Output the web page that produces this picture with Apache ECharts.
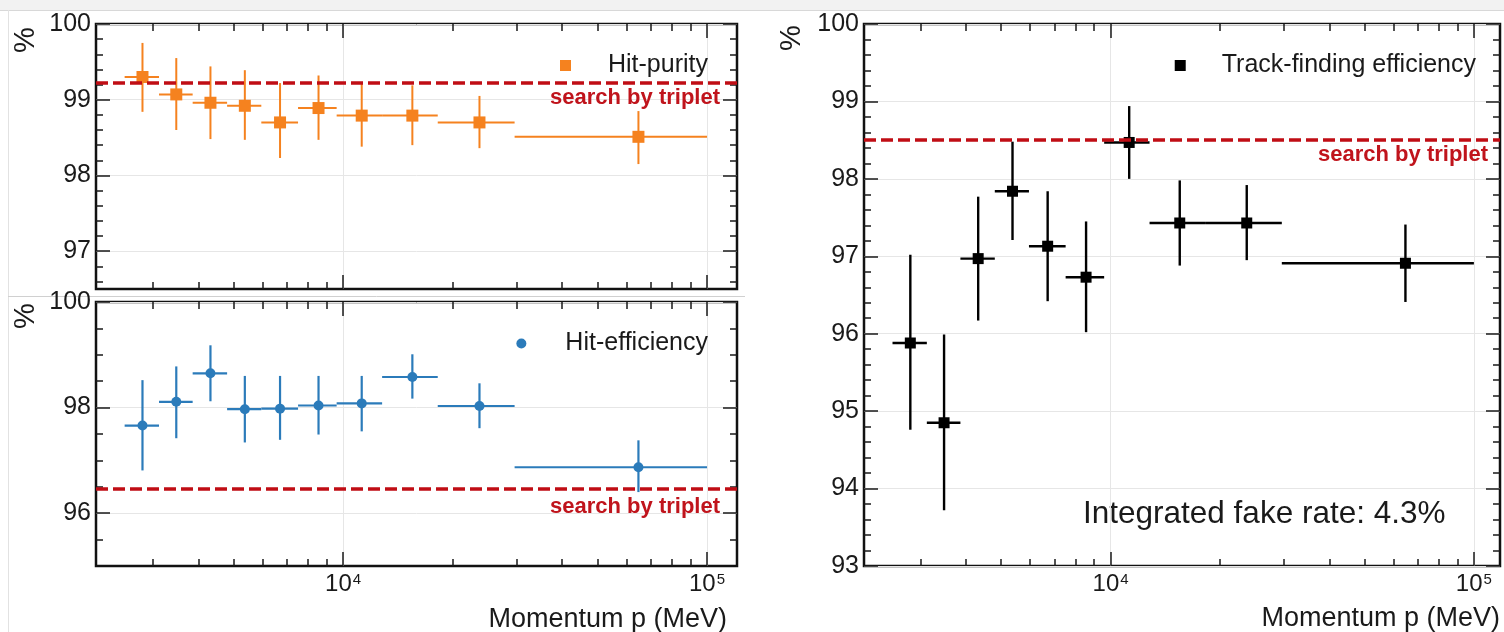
<!DOCTYPE html>
<html>
<head>
<meta charset="utf-8">
<script src="https://cdn.jsdelivr.net/npm/echarts@6/dist/echarts.min.js"></script>
<style>
  html, body { margin: 0; padding: 0; background: #ffffff; }
  #chart { width: 1504px; height: 632px; }
</style>
</head>
<body>
<div id="chart"></div>
<script>
// ---------------- data ----------------
const binEdges   = [2510, 3120, 3860, 4800, 5960, 7520, 9600, 12800, 18200, 29600, 100000];
const momentum   = [2810, 3480, 4320, 5370, 6710, 8560, 11250, 15500, 23700, 64800];

const purity     = [99.30, 99.07, 98.96, 98.92, 98.70, 98.89, 98.79, 98.79, 98.70, 98.51];
const purityHi   = [99.75, 99.55, 99.44, 99.39, 99.22, 99.32, 99.21, 99.19, 99.05, 98.85];
const purityLo   = [98.84, 98.60, 98.48, 98.47, 98.23, 98.47, 98.38, 98.40, 98.36, 98.15];

const hitEff     = [97.66, 98.11, 98.65, 97.97, 97.98, 98.04, 98.08, 98.58, 98.03, 96.87];
const hitEffHi   = [98.52, 98.78, 99.18, 98.60, 98.60, 98.60, 98.60, 99.01, 98.46, 97.38];
const hitEffLo   = [96.81, 97.42, 98.12, 97.34, 97.39, 97.49, 97.55, 98.17, 97.61, 96.40];

const trackEff   = [95.88, 94.85, 96.97, 97.84, 97.13, 96.73, 98.47, 97.43, 97.43, 96.91];
const trackEffHi = [97.02, 95.99, 97.77, 98.48, 97.84, 97.45, 98.94, 97.98, 97.92, 97.41];
const trackEffLo = [94.76, 93.72, 96.17, 97.21, 96.42, 96.02, 98.00, 96.88, 96.95, 96.41];

const tripletPurity   = 99.22;
const tripletHitEff   = 96.47;
const tripletTrackEff = 98.50;
const fakeRate = 4.3;

// ---------------- tick values ----------------
const xMajorTicks = [10000, 100000];
const xMinorTicks = [3000, 4000, 5000, 6000, 7000, 8000, 9000,
                     20000, 30000, 40000, 50000, 60000, 70000, 80000, 90000];

const purityMajor = [97, 98, 99, 100];
const purityMinor = [96.6, 96.8, 97.2, 97.4, 97.6, 97.8, 98.2, 98.4, 98.6, 98.8,
                     99.2, 99.4, 99.6, 99.8];
const hitEffMajor = [96, 98, 100];
const hitEffMinor = [95.5, 96.5, 97, 97.5, 98.5, 99, 99.5];
const trackMajor  = [93, 94, 95, 96, 97, 98, 99, 100];
const trackMinor  = [93.2, 93.4, 93.6, 93.8, 94.2, 94.4, 94.6, 94.8, 95.2, 95.4, 95.6, 95.8,
                     96.2, 96.4, 96.6, 96.8, 97.2, 97.4, 97.6, 97.8, 98.2, 98.4, 98.6, 98.8,
                     99.2, 99.4, 99.6, 99.8];

// ---------------- style ----------------
const FONT = '"Liberation Sans", Arial, Helvetica, sans-serif';
const INK = '#1a1a1a';
const TRIPLET_LINE = '#c00d14';
const TRIPLET_TEXT = '#c0141c';
const ORANGE = '#f5821f';
const BLUE = '#2b7bba';
const BLACK = '#000000';

const grids = [
  { left: 96,  top: 24,  width: 641, height: 265 },
  { left: 96,  top: 302, width: 641, height: 264 },
  { left: 864, top: 24,  width: 636, height: 542 }
];
const xRanges = [[2094, 120900], [2094, 120900], [2095, 118000]];
const yRanges = [[96.5, 100], [95, 100], [93, 100]];
const yTicks  = [[purityMajor, purityMinor], [hitEffMajor, hitEffMinor], [trackMajor, trackMinor]];

function xAxesFor(g, showLabels) {
  const r = xRanges[g];
  const base = {
    type: 'log', gridIndex: g, min: r[0], max: r[1],
    axisLine: { show: false }, axisLabel: { show: false }, splitLine: { show: false }
  };
  const tickStyle = { color: INK, width: 1.5 };
  const labels = showLabels ? {
    show: true, customValues: xMajorTicks, margin: 6,
    formatter: function (v) { return '{b|10}{s|' + Math.round(Math.log10(v)) + '}'; },
    rich: {
      b: { fontSize: 24, fontFamily: FONT, color: INK },
      s: { fontSize: 15, fontFamily: FONT, color: INK, verticalAlign: 'top', padding: [0, 0, 10, 1] }
    }
  } : { show: false };
  return [
    Object.assign({}, base, { position: 'bottom',
      axisTick: { show: true, inside: true, length: 14, customValues: xMajorTicks, lineStyle: tickStyle },
      axisLabel: labels,
      splitLine: { show: true, lineStyle: { color: '#e6e6e6', width: 1 } } }),
    Object.assign({}, base, { position: 'bottom',
      axisTick: { show: true, inside: true, length: 7, customValues: xMinorTicks, lineStyle: tickStyle } }),
    Object.assign({}, base, { position: 'top',
      axisTick: { show: true, inside: true, length: 14, customValues: xMajorTicks, lineStyle: tickStyle } }),
    Object.assign({}, base, { position: 'top',
      axisTick: { show: true, inside: true, length: 7, customValues: xMinorTicks, lineStyle: tickStyle } })
  ];
}

function yAxesFor(g) {
  const r = yRanges[g];
  const major = yTicks[g][0], minor = yTicks[g][1];
  const base = {
    type: 'value', gridIndex: g, min: r[0], max: r[1],
    axisLine: { show: false }, axisLabel: { show: false }, splitLine: { show: false }
  };
  const tickStyle = { color: INK, width: 1.5 };
  return [
    Object.assign({}, base, { position: 'left',
      axisTick: { show: true, inside: true, length: 14, customValues: major, lineStyle: tickStyle },
      axisLabel: { show: true, customValues: major, margin: 5, fontSize: 25, fontFamily: FONT, color: INK,
                   formatter: function (v) { return String(v); } },
      splitLine: { show: true, lineStyle: { color: '#e6e6e6', width: 1 } } }),
    Object.assign({}, base, { position: 'left',
      axisTick: { show: true, inside: true, length: 7, customValues: minor, lineStyle: tickStyle } }),
    Object.assign({}, base, { position: 'right',
      axisTick: { show: true, inside: true, length: 14, customValues: major, lineStyle: tickStyle } }),
    Object.assign({}, base, { position: 'right',
      axisTick: { show: true, inside: true, length: 7, customValues: minor, lineStyle: tickStyle } })
  ];
}

function errorBarSeries(g, vals, hi, lo, color, width) {
  return {
    type: 'custom', xAxisIndex: 4 * g, yAxisIndex: 4 * g, silent: true, z: 3,
    encode: { x: [0, 2, 3], y: [1, 4, 5] },
    data: momentum.map(function (m, i) { return [m, vals[i], binEdges[i], binEdges[i + 1], hi[i], lo[i]]; }),
    renderItem: function (params, api) {
      const c = api.coord([api.value(0), api.value(1)]);
      const l = api.coord([api.value(2), api.value(1)]);
      const r = api.coord([api.value(3), api.value(1)]);
      const t = api.coord([api.value(0), api.value(4)]);
      const b = api.coord([api.value(0), api.value(5)]);
      const st = { stroke: color, lineWidth: width };
      return { type: 'group', children: [
        { type: 'line', shape: { x1: l[0], y1: c[1], x2: r[0], y2: c[1] }, style: st },
        { type: 'line', shape: { x1: c[0], y1: t[1], x2: c[0], y2: b[1] }, style: st }
      ] };
    }
  };
}

function pointSeries(g, name, vals, color, symbol, size, triplet, labelDist) {
  return {
    type: 'scatter', name: name, xAxisIndex: 4 * g, yAxisIndex: 4 * g, z: 4,
    symbol: symbol, symbolSize: size, itemStyle: { color: color, opacity: 1 },
    data: momentum.map(function (m, i) { return [m, vals[i]]; }),
    markLine: {
      silent: true, symbol: ['none', 'none'], animation: false,
      lineStyle: { color: TRIPLET_LINE, type: [12, 5], width: 3.5 },
      label: { show: true, position: 'insideEndBottom', formatter: 'search by triplet',
               distance: labelDist, color: TRIPLET_TEXT, fontWeight: 'bold', fontSize: 22, fontFamily: FONT },
      emphasis: { disabled: true },
      data: [{ yAxis: triplet }]
    }
  };
}

function legendFor(name, icon, right, top, pad) {
  return {
    data: [{ name: name, icon: icon }], right: right, top: top,
    itemWidth: icon === 'circle' ? 10 : 11, itemHeight: icon === 'circle' ? 10 : 11,
    selectedMode: false,
    textStyle: { fontSize: 25, fontFamily: FONT, color: INK, padding: [0, 0, 0, pad] }
  };
}

const option = {
  animation: false,
  backgroundColor: '#ffffff',
  grid: grids.map(function (g) {
    return Object.assign({ show: true, borderColor: '#111111', borderWidth: 2.5, backgroundColor: 'transparent' }, g);
  }),
  xAxis: [].concat(xAxesFor(0, false), xAxesFor(1, true), xAxesFor(2, true)),
  yAxis: [].concat(yAxesFor(0), yAxesFor(1), yAxesFor(2)),
  legend: [
    legendFor('Hit-purity', 'rect', 791, 48, 32),
    legendFor('Hit-efficiency', 'circle', 791, 326, 34),
    legendFor('Track-finding efficiency', 'rect', 23, 48, 31)
  ],
  graphic: [
    { type: 'rect', shape: { x: 0, y: 0, width: 1504, height: 10 }, style: { fill: '#f2f2f2' }, silent: true },
    { type: 'line', shape: { x1: 0, y1: 10.5, x2: 1504, y2: 10.5 }, style: { stroke: '#d8d8d8', lineWidth: 1 }, silent: true },
    { type: 'line', shape: { x1: 8.5, y1: 10, x2: 8.5, y2: 632 }, style: { stroke: '#e2e2e2', lineWidth: 1 }, silent: true },
    { type: 'line', shape: { x1: 8, y1: 296.5, x2: 745, y2: 296.5 }, style: { stroke: '#d0d0d0', lineWidth: 1 }, silent: true },
    { type: 'text', x: 26, y: 40, rotation: Math.PI / 2,
      style: { text: '%', font: '29px ' + FONT, fill: INK, align: 'center', verticalAlign: 'middle' } },
    { type: 'text', x: 26, y: 316, rotation: Math.PI / 2,
      style: { text: '%', font: '29px ' + FONT, fill: INK, align: 'center', verticalAlign: 'middle' } },
    { type: 'text', x: 792, y: 38, rotation: Math.PI / 2,
      style: { text: '%', font: '29px ' + FONT, fill: INK, align: 'center', verticalAlign: 'middle' } },
    { type: 'text', x: 727, y: 620,
      style: { text: 'Momentum p (MeV)', font: '27px ' + FONT, fill: INK, align: 'right', verticalAlign: 'middle' } },
    { type: 'text', x: 1500, y: 619,
      style: { text: 'Momentum p (MeV)', font: '27px ' + FONT, fill: INK, align: 'right', verticalAlign: 'middle' } },
    { type: 'text', x: 1083, y: 514,
      style: { text: 'Integrated fake rate: ' + fakeRate + '%', font: '31.5px ' + FONT, fill: INK, align: 'left', verticalAlign: 'middle' } }
  ],
  series: [
    errorBarSeries(0, purity, purityHi, purityLo, ORANGE, 2),
    pointSeries(0, 'Hit-purity', purity, ORANGE, 'rect', 12, tripletPurity, [17, 4]),
    errorBarSeries(1, hitEff, hitEffHi, hitEffLo, BLUE, 2.2),
    pointSeries(1, 'Hit-efficiency', hitEff, BLUE, 'circle', 10, tripletHitEff, [17, 8]),
    errorBarSeries(2, trackEff, trackEffHi, trackEffLo, BLACK, 2.4),
    pointSeries(2, 'Track-finding efficiency', trackEff, BLACK, 'rect', 11, tripletTrackEff, [12, 4])
  ]
};

const chart = echarts.init(document.getElementById('chart'), null, { renderer: 'canvas' });
chart.setOption(option);
</script>
</body>
</html>
